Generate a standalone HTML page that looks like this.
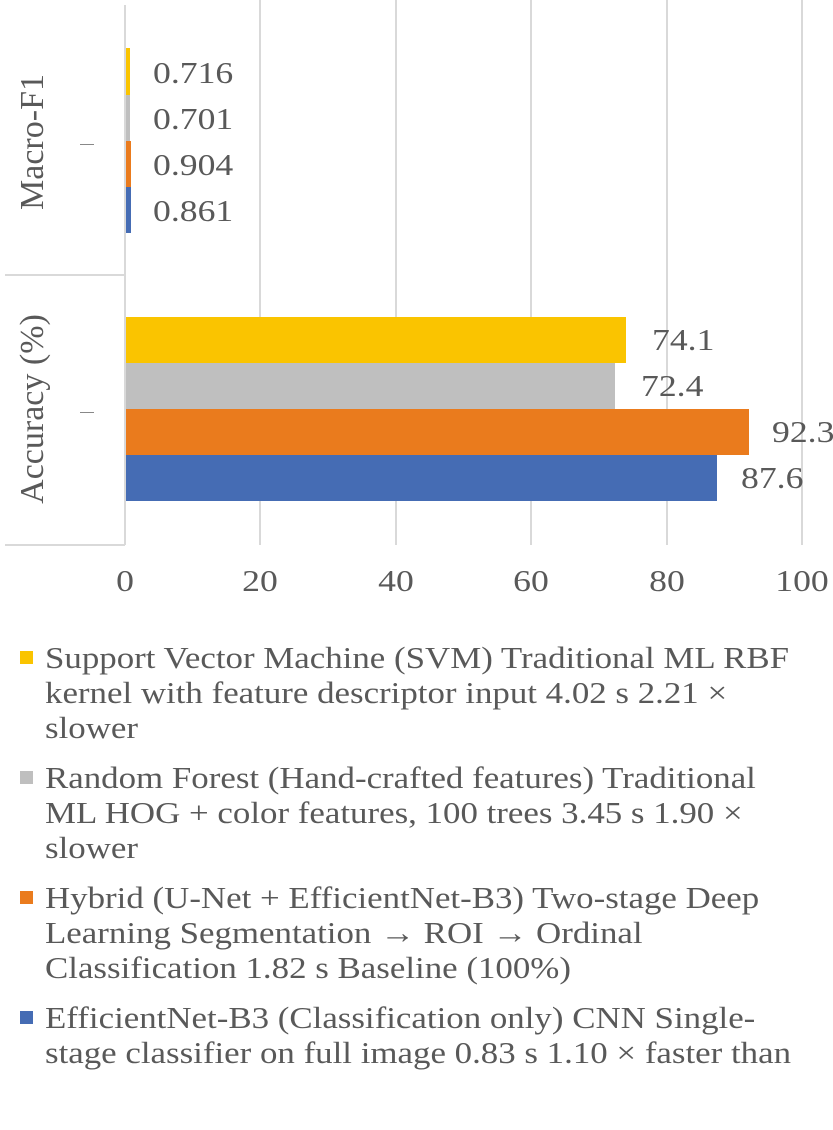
<!DOCTYPE html>
<html><head><style>
body{margin:0;width:833px;height:1130px;overflow:hidden;background:#fff;font-family:"Liberation Serif",serif;color:#595959;position:relative}
.a{position:absolute}
.g{position:absolute;top:0;width:2px;height:545px;background:#d9d9d9}
.t{position:absolute;font-size:31px;top:563px;transform:translateX(-50%) scaleX(1.15)}
.v{position:absolute;font-size:31px;transform:scaleX(1.15);transform-origin:left}
.sq{position:absolute;left:20px;width:13px;height:13px}
.lg{position:absolute;left:45px;white-space:nowrap;font-size:31px;line-height:35px;color:#595959;transform:scaleX(1.125);transform-origin:left}
</style></head><body>
<div class="g" style="left:259px"></div>
<div class="g" style="left:395px"></div>
<div class="g" style="left:530px"></div>
<div class="g" style="left:666px"></div>
<div class="g" style="left:801px"></div>
<div class="a" style="left:124px;top:5px;width:2px;height:540px;background:#d9d9d9"></div>
<div class="a" style="left:5px;top:274px;width:120px;height:2px;background:#d9d9d9"></div>
<div class="a" style="left:5px;top:544px;width:120px;height:2px;background:#d9d9d9"></div>
<div class="a" style="left:80px;top:144px;width:14px;height:1px;background:#888"></div>
<div class="a" style="left:80px;top:412px;width:14px;height:1px;background:#888"></div>
<div class="a" style="left:33px;top:142px;font-size:34px;transform:translate(-50%,-50%) rotate(-90deg);white-space:nowrap">Macro-F1</div>
<div class="a" style="left:33px;top:409px;font-size:34px;transform:translate(-50%,-50%) rotate(-90deg);white-space:nowrap">Accuracy (%)</div>
<div class="a" style="left:126px;top:48px;width:4px;height:47px;background:#fac400"></div>
<div class="a" style="left:126px;top:95px;width:4px;height:46px;background:#bfbfbf"></div>
<div class="a" style="left:126px;top:141px;width:5px;height:46px;background:#ea7b1d"></div>
<div class="a" style="left:126px;top:187px;width:5px;height:46px;background:#456cb4"></div>
<div class="v" style="left:153px;top:55px">0.716</div>
<div class="v" style="left:153px;top:101px">0.701</div>
<div class="v" style="left:153px;top:147px">0.904</div>
<div class="v" style="left:153px;top:193px">0.861</div>
<div class="a" style="left:126px;top:317px;width:500px;height:46px;background:#fac400"></div>
<div class="a" style="left:126px;top:363px;width:489px;height:46px;background:#bfbfbf"></div>
<div class="a" style="left:126px;top:409px;width:623px;height:46px;background:#ea7b1d"></div>
<div class="a" style="left:126px;top:455px;width:591px;height:46px;background:#456cb4"></div>
<div class="v" style="left:652px;top:322px">74.1</div>
<div class="v" style="left:641px;top:368px">72.4</div>
<div class="v" style="left:772px;top:414px">92.3</div>
<div class="v" style="left:741px;top:460px">87.6</div>
<div class="t" style="left:125px">0</div>
<div class="t" style="left:260px">20</div>
<div class="t" style="left:396px">40</div>
<div class="t" style="left:531px">60</div>
<div class="t" style="left:667px">80</div>
<div class="t" style="left:802px">100</div>
<div class="sq" style="top:651px;background:#fac400"></div>
<div class="lg" style="top:640px">Support Vector Machine (SVM) Traditional ML RBF<br>kernel with feature descriptor input 4.02 s 2.21 ×<br>slower</div>
<div class="sq" style="top:771px;background:#bfbfbf"></div>
<div class="lg" style="top:760px">Random Forest (Hand-crafted features) Traditional<br>ML HOG + color features, 100 trees 3.45 s 1.90 ×<br>slower</div>
<div class="sq" style="top:891px;background:#ea7b1d"></div>
<div class="lg" style="top:880px">Hybrid (U-Net + EfficientNet-B3) Two-stage Deep<br>Learning Segmentation → ROI → Ordinal<br>Classification 1.82 s Baseline (100%)</div>
<div class="sq" style="top:1011px;background:#456cb4"></div>
<div class="lg" style="top:1000px">EfficientNet-B3 (Classification only) CNN Single-<br>stage classifier on full image 0.83 s 1.10 × faster than</div>
</body></html>
